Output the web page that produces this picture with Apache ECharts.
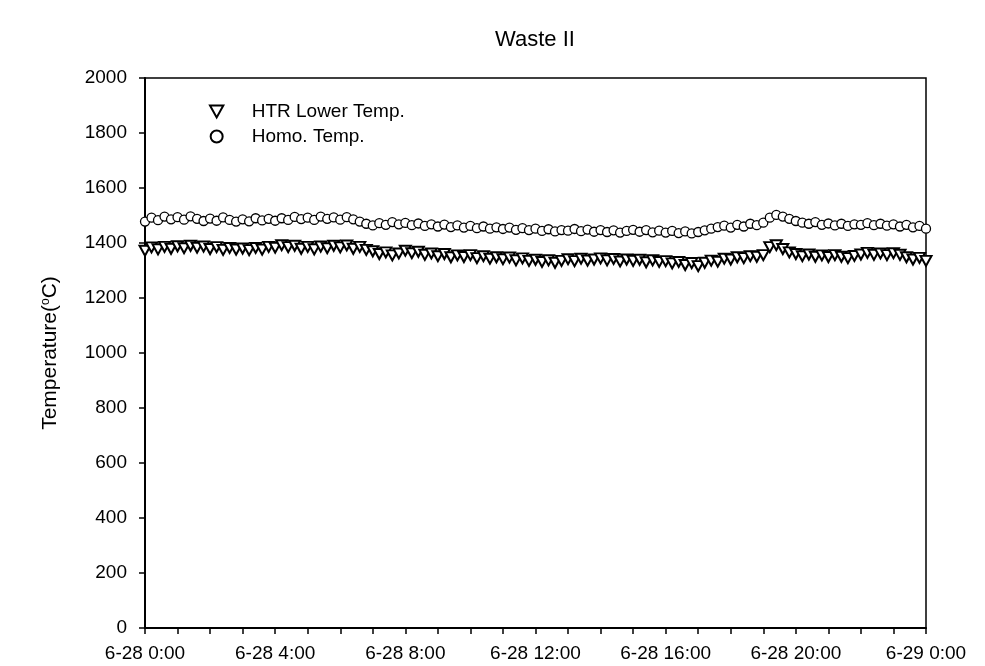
<!DOCTYPE html>
<html><head><meta charset="utf-8">
<script src="https://cdn.jsdelivr.net/npm/echarts@6/dist/echarts.min.js"></script>
<style>html,body{margin:0;padding:0;background:#fff}#c{width:985px;height:666px}</style>
</head><body><div id="c"></div>
<script>
const chartTitle = 'Waste II';
const seriesNames = ['HTR Lower Temp.', 'Homo. Temp.'];
const sampleStepHours = 0.2; // one reading every 12 minutes, 6-28 0:00 to 6-29 0:00
const xTickLabels = ['6-28 0:00', '6-28 4:00', '6-28 8:00', '6-28 12:00', '6-28 16:00', '6-28 20:00', '6-29 0:00'];
const yTickLabels = ['0', '200', '400', '600', '800', '1000', '1200', '1400', '1600', '1800', '2000'];

const htrLowerTemp = [
  1372, 1384, 1377, 1386, 1379,
  1388, 1381, 1390, 1383, 1387,
  1378, 1385, 1375, 1382, 1376,
  1380, 1374, 1382, 1376, 1386,
  1383, 1392, 1385, 1390, 1379,
  1386, 1377, 1387, 1381, 1390,
  1384, 1391, 1379, 1386, 1375,
  1370, 1360, 1366, 1355, 1362,
  1372, 1363, 1368, 1357, 1362,
  1352, 1360, 1348, 1355, 1349,
  1356, 1345, 1352, 1343, 1348,
  1341, 1347, 1337, 1344, 1335,
  1339, 1331, 1337, 1328, 1335,
  1341, 1334, 1343, 1336, 1340,
  1344, 1337, 1342, 1333, 1340,
  1335, 1339, 1330, 1337, 1331,
  1334, 1326, 1331, 1320, 1327,
  1316, 1328, 1336, 1332, 1343,
  1340, 1348, 1345, 1352, 1350,
  1356, 1385, 1392, 1378, 1366,
  1360, 1352, 1358, 1350, 1355,
  1349, 1356, 1350, 1345, 1353,
  1358, 1364, 1357, 1362, 1356,
  1363, 1357, 1348, 1340, 1346,
  1335
];
const homoTemp = [
  1478, 1492, 1483, 1496, 1486,
  1494, 1485, 1497, 1488, 1480,
  1489, 1481, 1493, 1484, 1478,
  1486, 1479, 1490, 1482, 1488,
  1481, 1490, 1484, 1495, 1487,
  1492, 1484, 1496, 1488, 1493,
  1485, 1494, 1486, 1478, 1470,
  1464, 1472, 1466, 1476, 1468,
  1473, 1465, 1471, 1462, 1468,
  1460, 1467, 1458, 1464, 1456,
  1462, 1454, 1460, 1452, 1457,
  1451, 1456, 1448, 1454, 1447,
  1452, 1444, 1450, 1442, 1447,
  1445, 1451, 1443, 1449, 1441,
  1447, 1440, 1446, 1438, 1444,
  1448, 1441, 1447, 1439, 1445,
  1438, 1444, 1436, 1442, 1435,
  1440, 1446, 1452, 1458, 1463,
  1456, 1466, 1460, 1470, 1465,
  1474, 1492, 1502, 1496, 1488,
  1480, 1474, 1470, 1476, 1466,
  1471, 1464, 1470, 1462, 1468,
  1466, 1472, 1465, 1470, 1463,
  1468, 1460, 1466, 1457, 1462,
  1452
];

const FONT = '"Liberation Sans", Arial, sans-serif';
const toPairs = vals => vals.map((v, i) => [i * sampleStepHours, v]);

const chart = echarts.init(document.getElementById('c'), null, {renderer: 'canvas'});
chart.setOption({
  backgroundColor: '#fff',
  animation: false,
  title: {
    text: chartTitle,
    left: 530, top: 24, textAlign: 'center',
    textStyle: {fontFamily: FONT, fontSize: 22, fontWeight: 'normal', color: '#000'}
  },
  legend: {
    orient: 'vertical',
    left: 204, top: 97,
    itemWidth: 14, itemHeight: 12, itemGap: 6,
    data: seriesNames,
    textStyle: {fontFamily: FONT, fontSize: 19, color: '#000', padding: [0, 0, 0, 23]}
  },
  grid: {
    left: 145, right: 59, top: 78, bottom: 38,
    show: true, borderColor: '#000', borderWidth: 1.5, backgroundColor: 'transparent'
  },
  xAxis: {
    type: 'value', min: 0, max: 24, interval: 4,
    axisLine: {lineStyle: {color: '#000', width: 2}},
    axisTick: {show: true, length: 6, lineStyle: {color: '#000', width: 1.5}},
    minorTick: {show: true, splitNumber: 4, length: 6, lineStyle: {color: '#000', width: 1.5}},
    splitLine: {show: false},
    axisLabel: {
      margin: 16, color: '#000', fontFamily: FONT, fontSize: 19,
      formatter: v => xTickLabels[Math.round(v / 4)]
    }
  },
  yAxis: {
    type: 'value', min: 0, max: 2000, interval: 200,
    name: 'Temperature({sup|o}C)',
    nameLocation: 'middle', nameRotate: 90, nameGap: 84,
    nameTextStyle: {
      fontFamily: FONT, fontSize: 21, color: '#000',
      rich: {sup: {fontFamily: FONT, fontSize: 12, color: '#000', verticalAlign: 'top', padding: [0, 0, 8, 0]}}
    },
    axisLine: {show: true, lineStyle: {color: '#000', width: 2}},
    axisTick: {show: true, length: 6, lineStyle: {color: '#000', width: 1.5}},
    splitLine: {show: false},
    axisLabel: {
      margin: 18, color: '#000', fontFamily: FONT, fontSize: 19,
      formatter: v => yTickLabels[Math.round(v / 200)]
    }
  },
  series: [
    {
      name: seriesNames[0], type: 'scatter',
      symbol: 'path://M0,0 L10,0 L5,9 Z', symbolSize: [11, 10],
      itemStyle: {color: '#fff', borderColor: '#000', borderWidth: 2, opacity: 1},
      data: toPairs(htrLowerTemp)
    },
    {
      name: seriesNames[1], type: 'scatter',
      symbol: 'circle', symbolSize: 9,
      itemStyle: {color: '#fff', borderColor: '#000', borderWidth: 1.3, opacity: 1},
      data: toPairs(homoTemp)
    }
  ]
});
</script>
</body></html>
